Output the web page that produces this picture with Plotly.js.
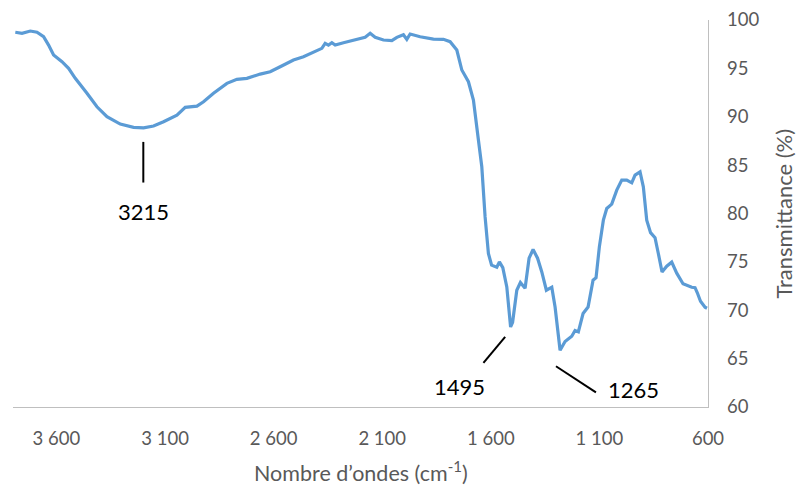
<!DOCTYPE html>
<html>
<head>
<meta charset="utf-8">
<script src="https://cdn.plot.ly/plotly-3.0.1.min.js"></script>
<style>
html,body{margin:0;padding:0;background:#fff;}
#chart{width:798px;height:486px;}
</style>
</head>
<body>
<div id="chart"></div>
<script>
// Wavenumber (cm-1) and transmittance (%)
const wavenumber = [3789.4,3758.6,3720.4,3689.5,3659.2,3636.2,3613.1,3574.5,3544.1,3513.3,
3459.4,3413.4,3367.4,3306.2,3244.9,3198.9,3152.9,3106.9,3045.2,3007.0,
2953.2,2922.8,2876.8,2815.1,2769.1,2723.0,2661.8,2615.8,2569.8,2508.6,
2462.5,2416.5,2377.9,2362.7,2347.5,2331.8,2316.6,2278.4,2216.8,2178.6,
2155.5,2132.5,2094.3,2055.7,2032.7,2002.3,1986.7,1971.5,1925.4,1864.2,
1818.2,1787.4,1756.5,1733.5,1703.1,1680.1,1657.1,1641.5,1626.3,1611.1,
1596.4,1572.4,1560.5,1544.8,1526.4,1508.9,1499.7,1480.4,1463.8,1442.2,
1423.8,1405.4,1384.7,1365.3,1344.2,1319.3,1304.1,1293.5,1281.1,1258.1,
1227.3,1212.1,1196.9,1175.2,1152.2,1129.2,1115.4,1100.2,1081.8,1066.2,
1043.2,1020.1,997.1,974.1,951.1,935.9,912.9,897.7,882.1,864.5,
843.9,828.7,811.6,790.0,767.0,744.0,715.0,674.9,659.7,649.2,
634.5,613.7,604.6];
const transmittance = [98.73,98.62,98.86,98.73,98.27,97.41,96.38,95.69,95.00,93.97,
92.42,91.03,90.00,89.24,88.90,88.86,89.04,89.48,90.17,90.97,
91.10,91.55,92.42,93.45,93.87,93.97,94.41,94.65,95.17,95.86,
96.20,96.72,97.07,97.59,97.41,97.65,97.41,97.65,98.00,98.21,
98.62,98.21,97.93,97.86,98.21,98.48,98.00,98.55,98.27,98.03,
98.00,97.76,96.90,94.83,93.62,91.72,87.59,84.83,79.65,75.87,
74.66,74.45,75.00,74.40,72.41,68.27,68.76,72.07,72.87,72.28,
75.38,76.28,75.38,73.96,72.07,72.38,70.34,67.93,65.87,66.77,
67.31,67.90,67.76,69.66,70.34,73.11,73.36,76.55,79.31,80.52,
80.97,82.42,83.45,83.45,83.17,83.97,84.31,82.76,79.31,78.02,
77.50,75.87,73.96,74.55,74.97,73.83,72.74,72.38,72.33,71.81,
70.93,70.31,70.21];

const xTickVals = [3600,3100,2600,2100,1600,1100,600];
const xTickText = ["3 600","3 100","2 600","2 100","1 600","1 100","600"];
const yTickVals = [60,65,70,75,80,85,90,95,100];

// Peak labels
const peakLabels = ["3215","1495","1265"];

const gray = '#595959';
const font = 'Lato, "Open Sans", sans-serif';

const trace = {
  x: wavenumber, y: transmittance, type: 'scatter', mode: 'lines',
  line: {color: '#5B9BD5', width: 3.2}, hoverinfo: 'skip'
};

const layout = {
  width: 798, height: 486,
  margin: {l: 13, r: 90, t: 20, b: 79.3},
  paper_bgcolor: '#fff', plot_bgcolor: '#fff',
  showlegend: false,
  font: {family: font, color: gray, size: 18},
  xaxis: {
    range: [3800, 600], autorange: false,
    tickvals: xTickVals, ticktext: xTickText,
    showgrid: false, zeroline: false,
    showline: true, linecolor: '#BFBFBF', linewidth: 1.3,
    ticks: '', ticklabelstandoff: 14,
    tickfont: {family: font, size: 18.5, color: gray}
  },
  yaxis: {
    range: [60, 100], autorange: false, side: 'right',
    tickvals: yTickVals,
    showgrid: false, zeroline: false,
    showline: true, linecolor: '#BFBFBF', linewidth: 1.3,
    ticks: '', ticklabelstandoff: 14,
    tickfont: {family: font, size: 18.5, color: gray}
  },
  shapes: [
    {type: 'line', xref: 'x', yref: 'y', x0: 3200, x1: 3200, y0: 87.4, y1: 83.2, line: {color: '#000', width: 2}},
    {type: 'line', xref: 'x', yref: 'y', x0: 1634, x1: 1534, y0: 64.55, y1: 67.24, line: {color: '#000', width: 2}},
    {type: 'line', xref: 'x', yref: 'y', x0: 1300, x1: 1116, y0: 64.21, y1: 61.52, line: {color: '#000', width: 2}}
  ],
  annotations: [
    {text: peakLabels[0], x: 3200, y: 80.24, xref: 'x', yref: 'y', showarrow: false, xanchor: 'center', yanchor: 'middle', font: {family: font, size: 22, color: '#000'}},
    {text: peakLabels[1], x: 1746, y: 62.14, xref: 'x', yref: 'y', showarrow: false, xanchor: 'center', yanchor: 'middle', font: {family: font, size: 22, color: '#000'}},
    {text: peakLabels[2], x: 945, y: 61.83, xref: 'x', yref: 'y', showarrow: false, xanchor: 'center', yanchor: 'middle', font: {family: font, size: 22, color: '#000'}},
    {text: 'Nombre d’ondes (cm<sup>-1</sup>)', x: 0.5, y: -0.166, xref: 'paper', yref: 'paper', showarrow: false, xanchor: 'center', yanchor: 'middle', font: {family: font, size: 21.5, color: gray}},
    {text: 'Transmittance (%)', x: 1.108, y: 0.5, xref: 'paper', yref: 'paper', showarrow: false, xanchor: 'center', yanchor: 'middle', textangle: -90, font: {family: font, size: 22, color: gray}}
  ]
};

Plotly.newPlot('chart', [trace], layout, {staticPlot: true, displayModeBar: false});
</script>
</body>
</html>
